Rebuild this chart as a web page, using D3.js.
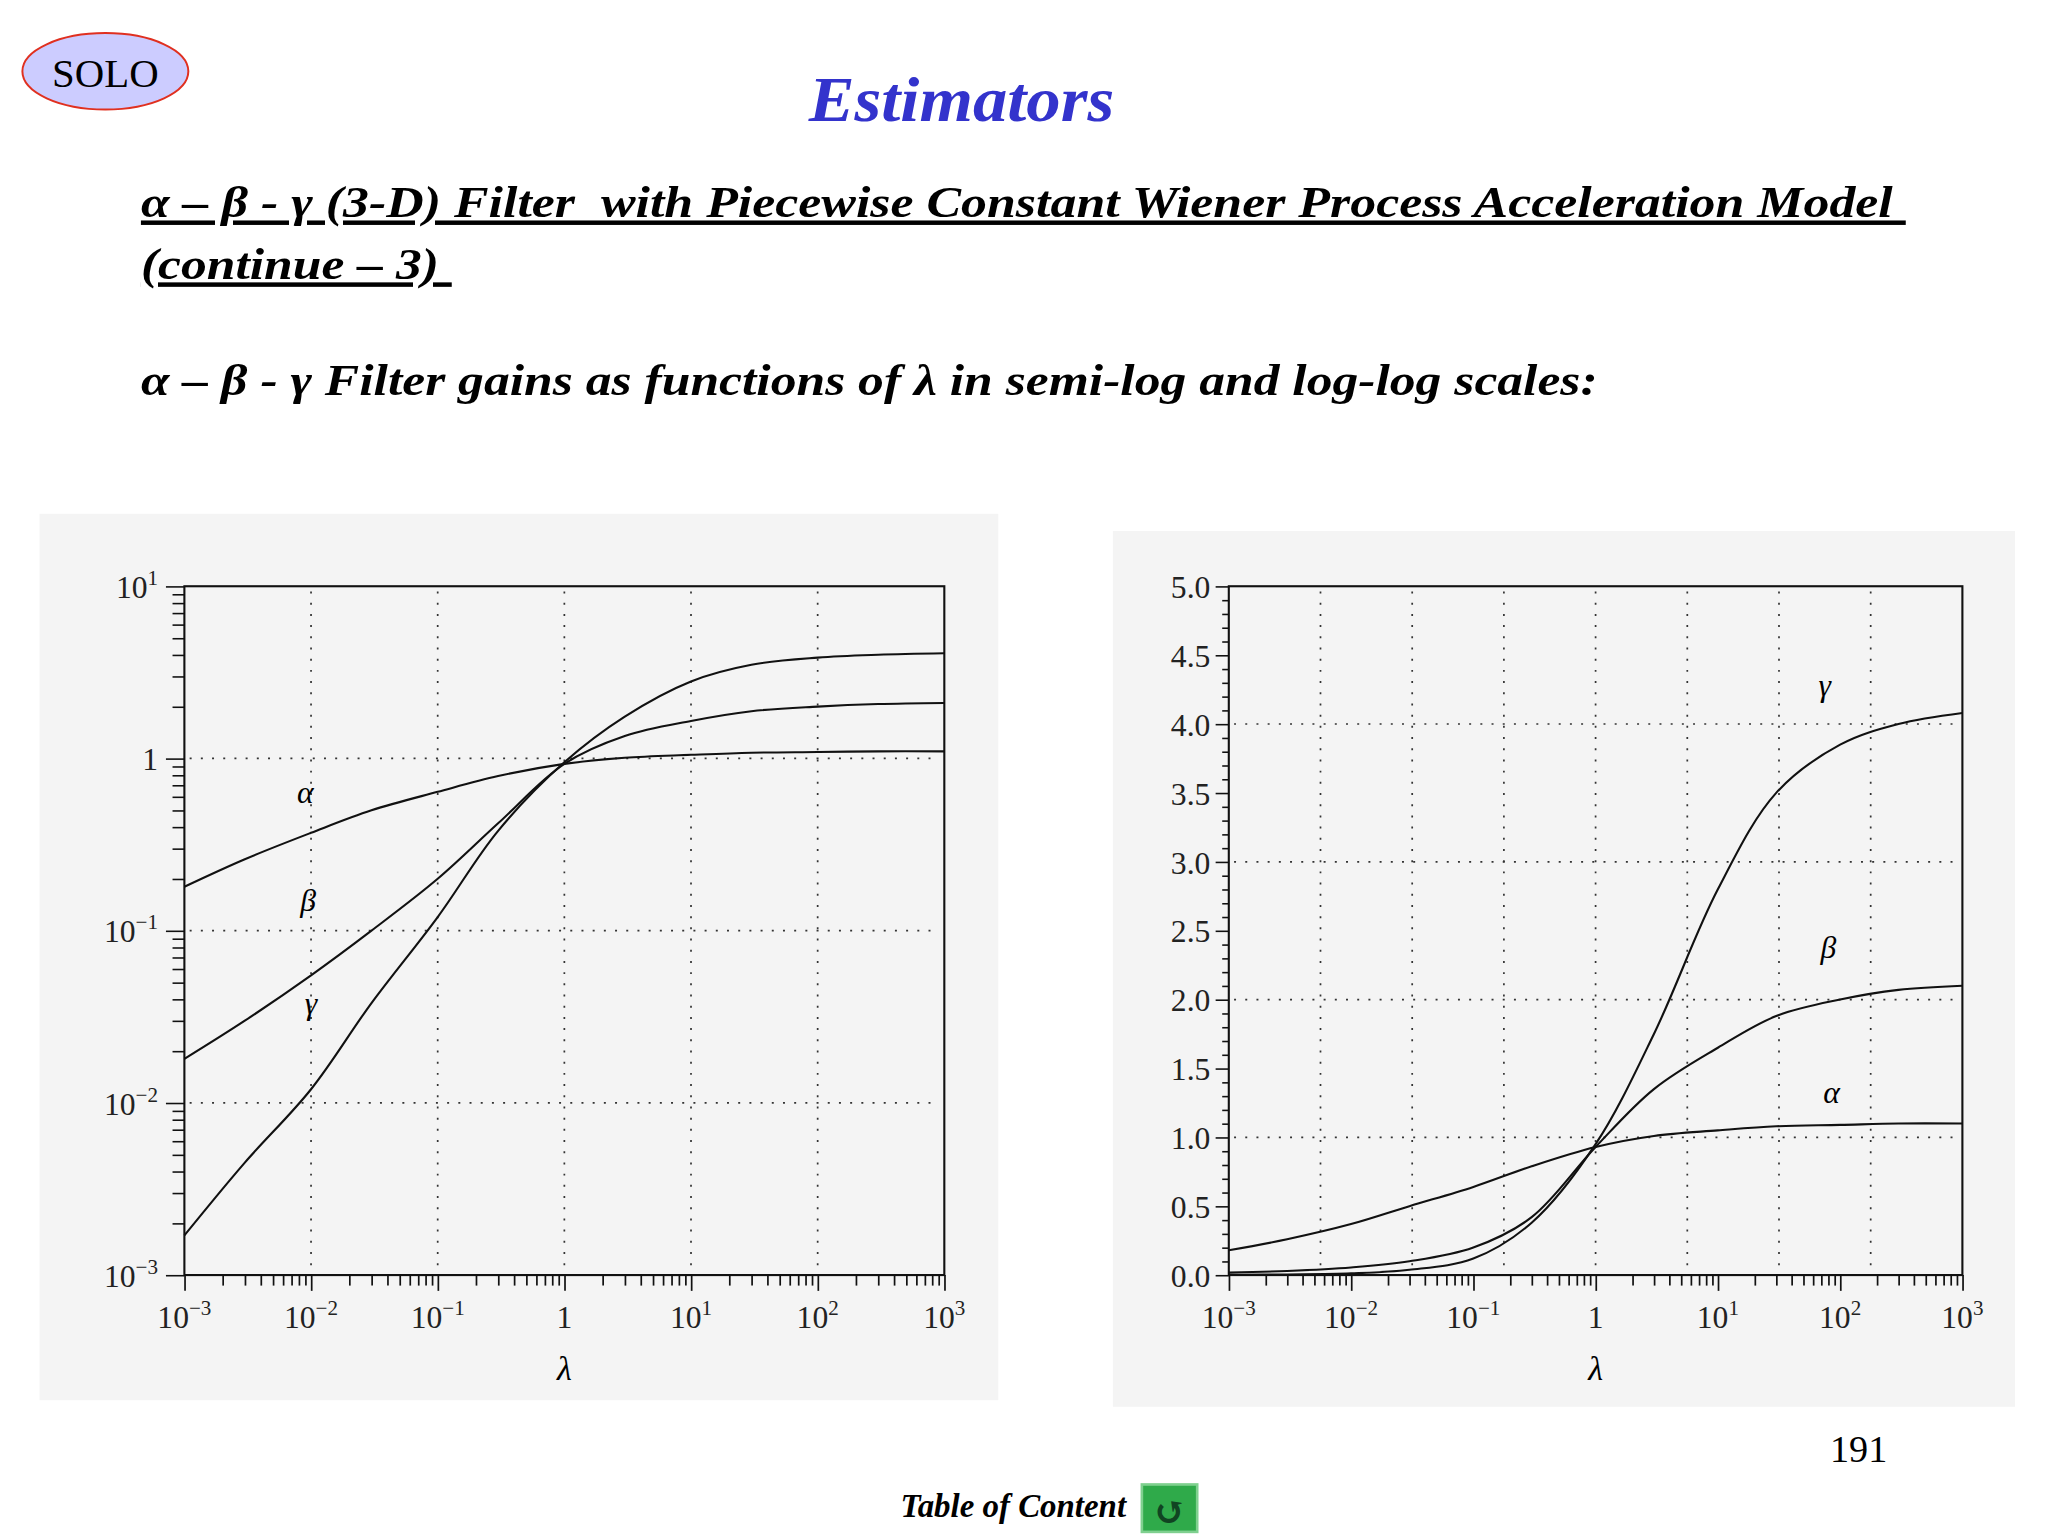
<!DOCTYPE html>
<html><head><meta charset="utf-8">
<script src="https://cdn.jsdelivr.net/npm/d3@7"></script>
<style>body{margin:0;background:#fff}svg{display:block}</style>
</head><body>
<svg id="c" width="2048" height="1536" viewBox="0 0 1555 1166"></svg>
<script>
// data
const lambdas = [1e-3, 3e-3, 1e-2, 3e-2, 0.1, 0.3, 1, 3, 10, 30, 100, 300, 1000];
const alphaGain = [0.18, 0.26, 0.37, 0.5, 0.64, 0.79, 0.93, 1.01, 1.05, 1.08, 1.09, 1.1, 1.1];
const betaGain = [0.018, 0.03, 0.055, 0.1, 0.2, 0.42, 0.93, 1.35, 1.65, 1.88, 2.0, 2.07, 2.1];
const gammaGain = [0.0017, 0.0045, 0.012, 0.038, 0.12, 0.38, 0.95, 1.75, 2.8, 3.5, 3.85, 4.0, 4.08];
const xTickLabels = ['-3', '-2', '-1', '', '1', '2', '3'];
const linYTicks = [0, 0.5, 1, 1.5, 2, 2.5, 3, 3.5, 4, 4.5, 5];

const svg = d3.select('#c');
const serif = '"Liberation Serif", "DejaVu Serif", serif';
const series = [
  { name: 'α', v: alphaGain },
  { name: 'β', v: betaGain },
  { name: 'γ', v: gammaGain },
];

// header
svg.append('ellipse').attr('cx', 80).attr('cy', 54).attr('rx', 63).attr('ry', 29)
  .attr('fill', '#ccccff').attr('stroke', '#e03020').attr('stroke-width', 1.5);
svg.append('text').attr('x', 80).attr('y', 66).attr('text-anchor', 'middle')
  .style('font', `31px ${serif}`).text('SOLO');
svg.append('text').attr('x', 614).attr('y', 92).attr('textLength', 232).attr('lengthAdjust', 'spacingAndGlyphs')
  .style('font', `italic bold 48px ${serif}`).attr('fill', '#3333cc').text('Estimators');
const heading = [
  ['α – β - γ (3-D) Filter  with Piecewise Constant Wiener Process Acceleration Model ', 165, true, 1340],
  ['(continue – 3) ', 212, true, 236],
  ['α – β - γ Filter gains as functions of λ in semi-log and log-log scales:', 300, false, 1106],
];
heading.forEach(([t, y, u, w]) => {
  svg.append('text').attr('x', 107).attr('y', y).attr('textLength', w).attr('lengthAdjust', 'spacingAndGlyphs')
    .style('font', `italic bold 34px ${serif}`).style('white-space', 'pre')
    .attr('text-decoration', u ? 'underline' : null).text(t);
});
svg.append('text').attr('x', 1433).attr('y', 1110).attr('text-anchor', 'end')
  .style('font', `29px ${serif}`).text('191');
svg.append('text').attr('x', 855).attr('y', 1152).attr('text-anchor', 'end')
  .style('font', `italic bold 25px ${serif}`).text('Table of Content');
svg.append('rect').attr('x', 867).attr('y', 1127).attr('width', 42).attr('height', 36)
  .attr('fill', '#2faa4a').attr('stroke', '#7fd08f').attr('stroke-width', 2);
svg.append('text').attr('x', 888).attr('y', 1158).attr('text-anchor', 'middle')
  .style('font', `bold 30px ${serif}`).attr('fill', '#114422').text('↺');

function panel(bg, x0, x1, yTop, yBot, yScale, logY) {
  svg.append('rect').attr('x', bg[0]).attr('y', bg[1]).attr('width', bg[2]).attr('height', bg[3])
    .attr('fill', '#f4f4f4');
  const x = d3.scaleLog().domain([1e-3, 1e3]).range([x0, x1]);
  const y = yScale.range([yBot, yTop]);
  const g = svg.append('g');
  const dot = { stroke: '#333', 'stroke-width': 1.3, 'stroke-dasharray': '1.5 7' };
  const applyAttrs = (s, a) => Object.entries(a).forEach(([k, v]) => s.attr(k, v));

  // grid
  const vGrid = logY ? [1e-2, 1e-1, 1, 10, 100] : d3.range(1, 8).map((k) => 10 ** (-3 + k * 0.75));
  vGrid.forEach((v) => applyAttrs(g.append('line').attr('x1', x(v)).attr('x2', x(v))
    .attr('y1', yTop + 4).attr('y2', yBot - 4), dot));
  const hGrid = logY ? [1, 0.1, 0.01] : [1, 2, 3, 4];
  hGrid.forEach((v) => applyAttrs(g.append('line').attr('x1', x0 + 4).attr('x2', x1 - 4)
    .attr('y1', y(v)).attr('y2', y(v)), dot));

  // frame
  g.append('rect').attr('x', x0).attr('y', yTop).attr('width', x1 - x0).attr('height', yBot - yTop)
    .attr('fill', 'none').attr('stroke', '#111').attr('stroke-width', 1.6);

  // x axis
  const xAxis = d3.axisBottom(x).tickValues(d3.range(-3, 3).flatMap((e) => d3.range(1, 10).map((m) => m * 10 ** e)).concat([1000]))
    .tickSize(0).tickFormat('');
  const xa = g.append('g').attr('transform', `translate(0,${yBot})`).call(xAxis);
  xa.select('.domain').remove();
  xa.selectAll('.tick line').attr('stroke', '#111').attr('stroke-width', 1.3)
    .attr('y2', (d) => (Math.abs(Math.log10(d) - Math.round(Math.log10(d))) < 1e-9 ? 12 : 8));
  d3.range(-3, 4).forEach((e, i) => {
    const t = g.append('text').attr('x', x(10 ** e)).attr('y', yBot + 40).attr('text-anchor', 'middle')
      .style('font', `24px ${serif}`).attr('fill', '#222');
    if (e === 0) t.text('1');
    else {
      t.append('tspan').text('10');
      t.append('tspan').attr('dy', -10).style('font-size', '16px').text(xTickLabels[i].replace('-', '−'));
    }
  });
  g.append('text').attr('x', x(1)).attr('y', yBot + 80).attr('text-anchor', 'middle')
    .style('font', `italic 26px ${serif}`).text('λ');

  // y axis
  if (logY) {
    const vals = d3.range(-3, 1).flatMap((e) => d3.range(1, 10).map((m) => m * 10 ** e)).concat([10]);
    const ya = g.append('g').attr('transform', `translate(${x0},0)`)
      .call(d3.axisLeft(y).tickValues(vals).tickSize(0).tickFormat(''));
    ya.select('.domain').remove();
    ya.selectAll('.tick line').attr('stroke', '#111').attr('stroke-width', 1.2)
      .attr('x2', (d) => (Math.abs(Math.log10(d) - Math.round(Math.log10(d))) < 1e-9 ? -14 : -9));
    [1, 0, -1, -2, -3].forEach((e) => {
      const t = g.append('text').attr('x', x0 - 20).attr('y', y(10 ** e) + 9).attr('text-anchor', 'end')
        .style('font', `24px ${serif}`).attr('fill', '#222');
      if (e === 0) t.text('1');
      else {
        t.append('tspan').text('10');
        t.append('tspan').attr('dy', -10).style('font-size', '16px').text(String(e).replace('-', '−'));
      }
    });
  } else {
    const ya = g.append('g').attr('transform', `translate(${x0},0)`)
      .call(d3.axisLeft(y).tickValues(d3.range(0, 51).map((k) => k / 10)).tickSize(0).tickFormat(''));
    ya.select('.domain').remove();
    ya.selectAll('.tick line').attr('stroke', '#111').attr('stroke-width', 1.2)
      .attr('x2', (d) => (Math.round(d * 10) % 5 === 0 ? -10 : -5));
    linYTicks.forEach((v) => g.append('text').attr('x', x0 - 14).attr('y', y(v) + 9).attr('text-anchor', 'end')
      .style('font', `24px ${serif}`).attr('fill', '#222').text(v.toFixed(1)));
  }

  // curves
  const line = d3.line().x((d) => x(d[0])).y((d) => y(d[1])).curve(d3.curveCatmullRom.alpha(0.5));
  series.forEach((s) => {
    g.append('path').attr('d', line(lambdas.map((l, i) => [l, s.v[i]])))
      .attr('fill', 'none').attr('stroke', '#111').attr('stroke-width', 1.6);
  });
  return { g, x, y };
}

const left = panel([30, 390, 728, 673], 140, 717, 445, 968, d3.scaleLog().domain([1e-3, 10]), true);
[['α', 9e-3, 0.55], ['β', 9.5e-3, 0.13], ['γ', 1e-2, 0.033]].forEach(([t, l, v]) =>
  left.g.append('text').attr('x', left.x(l)).attr('y', left.y(v)).attr('text-anchor', 'middle')
    .style('font', `italic 24px ${serif}`).text(t));

const right = panel([845, 403, 685, 665], 933, 1490, 445, 968, d3.scaleLinear().domain([0, 5]), false);
[['γ', 75, 4.2], ['β', 80, 2.3], ['α', 85, 1.25]].forEach(([t, l, v]) =>
  right.g.append('text').attr('x', right.x(l)).attr('y', right.y(v)).attr('text-anchor', 'middle')
    .style('font', `italic 24px ${serif}`).text(t));
</script>
</body></html>
